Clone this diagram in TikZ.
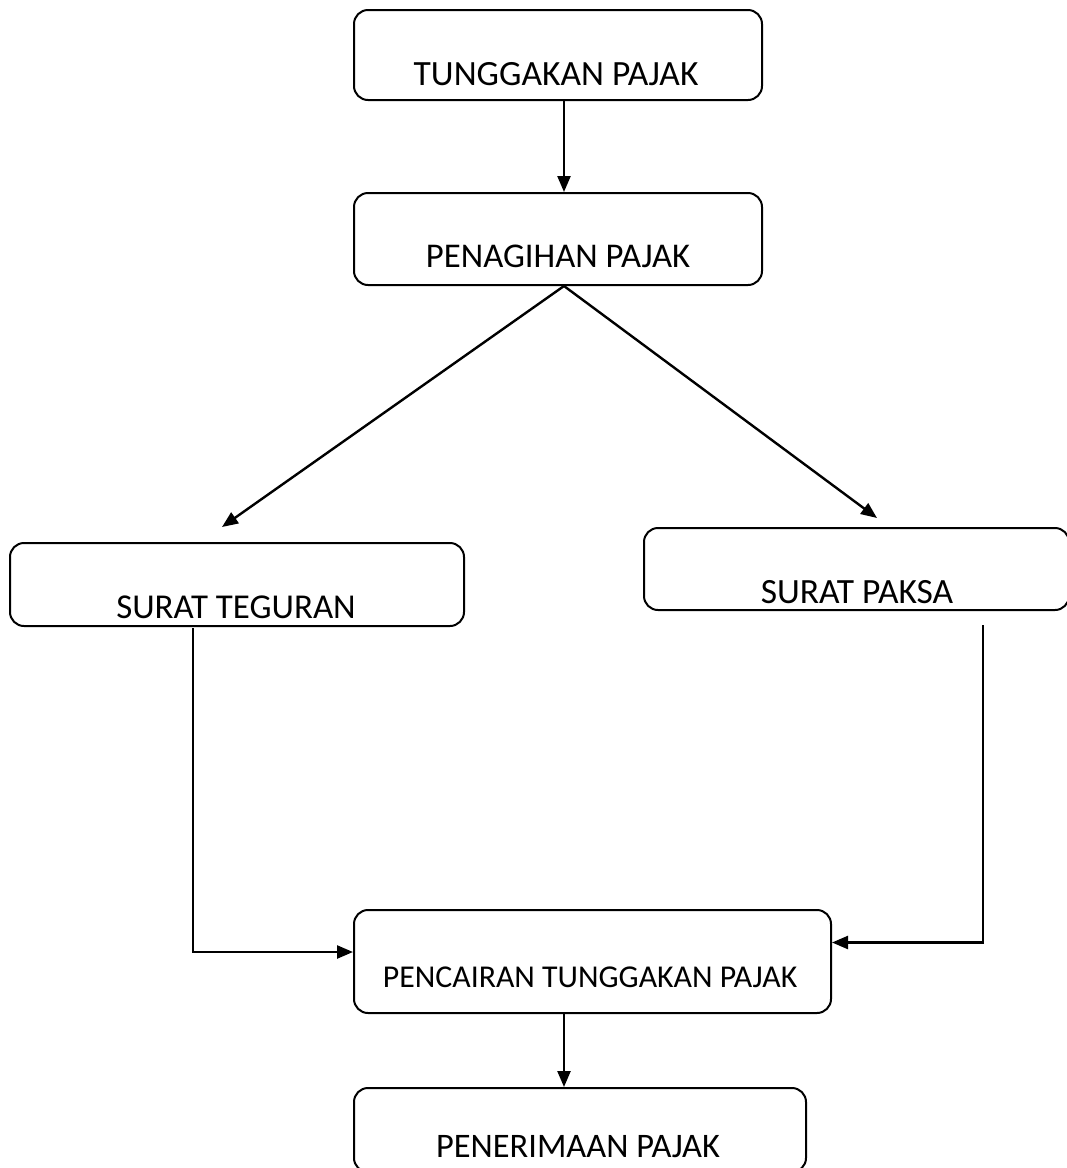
\documentclass[tikz,border=0pt]{standalone}
\usepackage{fontspec}
\setmainfont{Carlito}
\usetikzlibrary{arrows.meta,calc}
\begin{document}
\begin{tikzpicture}[x=1pt,y=-1pt,
  box/.style={draw=black,line width=2pt,rounded corners=14pt,inner sep=0pt},
  lbl/.style={anchor=base,inner sep=0pt,font=\fontsize{#1}{42}\selectfont},
  lbl/.default=35.5,
  conn/.style={line width=2.4pt,-{Triangle[length=16pt,width=13pt]}}]
\useasboundingbox (0,0) rectangle (1067,1168);
\begin{scope}
\clip (0,0) rectangle (1067,1168);
\node[box,minimum width=408pt,minimum height=90pt] (b1) at (558,55) {};
\node[box,minimum width=408pt,minimum height=92pt] (b2) at (558,239) {};
\node[box,minimum width=454pt,minimum height=83pt] (b3) at (237,584.5) {};
\node[box,minimum width=425pt,minimum height=82pt] (b4) at (856.5,569) {};
\node[box,minimum width=477pt,minimum height=103pt] (b5) at (592.5,961.5) {};
\node[box,minimum width=452pt,minimum height=84pt] (b6) at (580,1130) {};
\end{scope}
\node[lbl] (l1) at (556,85) {TUNGGAKAN PAJAK};
\node[lbl=34.7] (l2) at (558,267) {PENAGIHAN PAJAK};
\node[lbl=34.9] (l3) at (236,618) {SURAT TEGURAN};
\node[lbl] (l4) at (857,603) {SURAT PAKSA};
\node[lbl=31.8] (l5) at (590,987) {PENCAIRAN TUNGGAKAN PAJAK};
\node[lbl=34.4] (l6) at (578,1157) {PENERIMAAN PAJAK};
\coordinate (s2) at ([xshift=6pt]b2.south);
\coordinate (e3) at (222,527);
\coordinate (e4) at (877,518);
\coordinate (p3) at (193,628);
\coordinate (p4) at (983,625);
\draw[conn] ([xshift=6pt]b1.south) -- ([xshift=6pt]b2.north);
\draw[conn] (s2) -- (e3);
\draw[conn] (s2) -- (e4);
\draw[conn] (p3) |- ([yshift=9.5pt]b5.west);
\draw[conn] (p4) |- ([yshift=19pt]b5.east);
\draw[conn] ([xshift=-28.5pt]b5.south) -- ([xshift=-16pt]b6.north);
\end{tikzpicture}
\end{document}
